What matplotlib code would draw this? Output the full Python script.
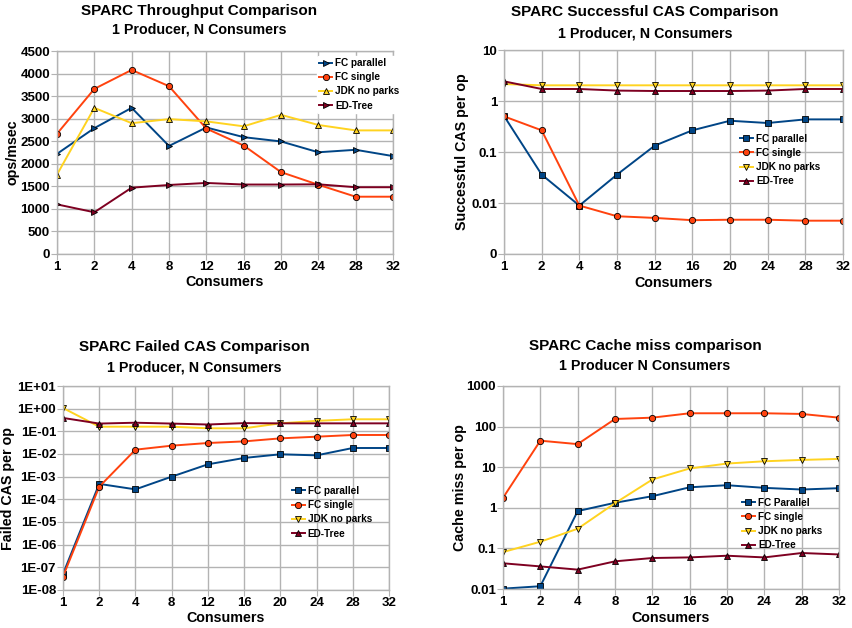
import matplotlib
matplotlib.use('Agg')
import matplotlib.pyplot as plt
from matplotlib.ticker import FixedLocator, FixedFormatter, NullLocator

plt.rcParams['font.family'] = ['Liberation Sans', 'DejaVu Sans']
plt.rcParams['font.weight'] = 'bold'

consumers = ['1', '2', '4', '8', '12', '16', '20', '24', '28', '32']

# throughput (ops/msec)
tp_fc_parallel = [2220, 2790, 3240, 2395, 2805, 2590, 2495, 2255, 2310, 2170]
tp_fc_single = [2665, 3660, 4080, 3720, 2780, 2405, 1815, 1535, 1270, 1270]
tp_jdk = [1760, 3240, 2900, 2990, 2940, 2830, 3085, 2860, 2740, 2740]
tp_edtree = [1100, 925, 1470, 1530, 1575, 1540, 1540, 1545, 1480, 1480]

# successful CAS per op
ok_fc_parallel = [0.51, 0.036, 0.0089, 0.036, 0.133, 0.266, 0.41, 0.37, 0.436, 0.436]
ok_fc_single = [0.50, 0.266, 0.0089, 0.0055, 0.0051, 0.0046, 0.0047, 0.0047, 0.0045, 0.0045]
ok_jdk = [2.15, 2.03, 2.03, 2.03, 2.03, 2.03, 2.03, 2.03, 2.03, 2.03]
ok_edtree = [2.43, 1.72, 1.72, 1.60, 1.57, 1.57, 1.57, 1.60, 1.72, 1.72]

# failed CAS per op
fail_fc_parallel = [5.1e-8, 4.8e-4, 2.75e-4, 1.0e-3, 3.5e-3, 6.7e-3, 9.7e-3, 8.7e-3, 0.0184, 0.0184]
fail_fc_single = [3.9e-8, 3.6e-4, 0.0155, 0.0233, 0.0305, 0.036, 0.049, 0.058, 0.069, 0.069]
fail_jdk = [1.07, 0.16, 0.16, 0.16, 0.136, 0.136, 0.225, 0.29, 0.34, 0.34]
fail_edtree = [0.39, 0.22, 0.24, 0.22, 0.20, 0.23, 0.225, 0.225, 0.225, 0.225]

# cache misses per op
cm_fc_parallel = [0.0102, 0.0117, 0.83, 1.33, 1.93, 3.2, 3.6, 3.1, 2.82, 3.04]
cm_fc_single = [1.76, 45, 37, 154, 166, 213, 213, 213, 205, 166]
cm_jdk = [0.081, 0.146, 0.305, 1.3, 4.97, 9.3, 12.3, 14.0, 15.1, 16.0]
cm_edtree = [0.043, 0.036, 0.030, 0.048, 0.058, 0.060, 0.066, 0.060, 0.077, 0.071]

BLUE = '#004586'
ORANGE = '#ff420e'
YELLOW = '#ffd320'
MAROON = '#7e0021'
GRID = '#b3b3b3'

fig = plt.figure(figsize=(8.52, 6.28), dpi=100)


def px_axes(l, t, r, b):
    W, H = 852.0, 628.0
    return fig.add_axes([l / W, 1 - b / H, (r - l) / W, (b - t) / H])


def style(ax):
    ax.set_xlim(0, len(consumers) - 1)
    ax.set_xticks(range(len(consumers)))
    ax.set_xticklabels(consumers)
    ax.grid(True, color=GRID, linewidth=1.0)
    ax.set_axisbelow(True)
    for s in ax.spines.values():
        s.set_color(GRID)
        s.set_linewidth(1.0)
    ax.tick_params(axis='both', which='major', direction='out', length=4,
                   color=GRID, labelsize=9.5, pad=1)
    for lab in ax.get_xticklabels() + ax.get_yticklabels():
        lab.set_fontweight('bold')


def draw(ax, series, markers, labels, log=False):
    x = range(len(consumers))
    colors = [BLUE, ORANGE, YELLOW, MAROON]
    for ys, m, lab, c in zip(series, markers, labels, colors):
        ax.plot(x, ys, color=c, linewidth=1.4, marker=m, markersize=4.5,
                markerfacecolor=c, markeredgecolor='black', markeredgewidth=0.6,
                label=lab)
    if log:
        ax.set_yscale('log')
        ax.yaxis.set_minor_locator(NullLocator())


def legend(ax, x, y, white=False):
    leg = ax.legend(loc='upper left', bbox_to_anchor=(x, y), frameon=white,
                    fontsize=7.2, handlelength=1.3, handletextpad=0.3,
                    labelspacing=0.42, borderaxespad=0, borderpad=0.2)
    if white:
        leg.get_frame().set_edgecolor('white')
        leg.get_frame().set_facecolor('white')
        leg.get_frame().set_alpha(1)
    for t in leg.get_texts():
        t.set_fontweight('bold')
    return leg


def titles(cx, y1, y2, t1, t2):
    fig.text(cx / 852, 1 - y1 / 628, t1, ha='center', va='center',
             fontsize=11, fontweight='bold')
    fig.text(cx / 852, 1 - y2 / 628, t2, ha='center', va='center',
             fontsize=10.3, fontweight='bold')


def labels(ax, xlab, ylab, xl_y, yl_x):
    ax.set_xlabel(xlab, fontsize=10.3, fontweight='bold')
    ax.set_ylabel(ylab, fontsize=10.3, fontweight='bold')
    ax.xaxis.set_label_coords(0.5, xl_y)
    ax.yaxis.set_label_coords(yl_x, 0.5)


# ---- Throughput
ax1 = px_axes(57, 51, 393, 254)
draw(ax1, [tp_fc_parallel, tp_fc_single, tp_jdk, tp_edtree],
     ['>', 'o', '^', '>'], ['FC parallel', 'FC single', 'JDK no parks', 'ED-Tree'])
ax1.set_ylim(0, 4500)
ax1.set_yticks(range(0, 4501, 500))
style(ax1)
legend(ax1, 0.775, 0.975, white=True)
titles(199, 11, 30, 'SPARC Throughput Comparison', '1 Producer, N Consumers')
labels(ax1, 'Consumers', 'ops/msec', -0.105, -0.113)

# ---- Successful CAS
ax2 = px_axes(504, 50, 843, 254)
draw(ax2, [ok_fc_parallel, ok_fc_single, ok_jdk, ok_edtree],
     ['s', 'o', 'v', '^'], ['FC parallel', 'FC single', 'JDK no parks', 'ED-Tree'], log=True)
ax2.set_ylim(0.001, 10)
ax2.yaxis.set_major_locator(FixedLocator([0.001, 0.01, 0.1, 1, 10]))
ax2.yaxis.set_major_formatter(FixedFormatter(['0', '0.01', '0.1', '1', '10']))
style(ax2)
legend(ax2, 0.69, 0.6)
titles(645, 12, 33, 'SPARC Successful CAS Comparison', '1 Producer, N Consumers')
labels(ax2, 'Consumers', 'Successful CAS per op', -0.11, -0.103)

# ---- Failed CAS
ax3 = px_axes(63, 386, 389, 590)
draw(ax3, [fail_fc_parallel, fail_fc_single, fail_jdk, fail_edtree],
     ['s', 'o', 'v', '^'], ['FC parallel', 'FC single', 'JDK no parks', 'ED-Tree'], log=True)
ax3.set_ylim(1e-8, 10)
exps = list(range(-8, 2))
ax3.yaxis.set_major_locator(FixedLocator([10.0 ** e for e in exps]))
ax3.yaxis.set_major_formatter(FixedFormatter(['1E%+03d' % e for e in exps]))
style(ax3)
legend(ax3, 0.695, 0.52)
titles(194, 347, 367, 'SPARC Failed CAS Comparison', '1 Producer, N Consumers')
labels(ax3, 'Consumers', 'Failed CAS per op', -0.105, -0.147)

# ---- Cache miss
ax4 = px_axes(503, 386, 839, 589)
draw(ax4, [cm_fc_parallel, cm_fc_single, cm_jdk, cm_edtree],
     ['s', 'o', 'v', '^'], ['FC Parallel', 'FC single', 'JDK no parks', 'ED-Tree'], log=True)
ax4.set_ylim(0.01, 1000)
ax4.yaxis.set_major_locator(FixedLocator([0.01, 0.1, 1, 10, 100, 1000]))
ax4.yaxis.set_major_formatter(FixedFormatter(['0.01', '0.1', '1', '10', '100', '1000']))
style(ax4)
legend(ax4, 0.705, 0.46)
titles(645, 346, 366, 'SPARC Cache miss comparison', '1 Producer N Consumers')
labels(ax4, 'Consumers', 'Cache miss per op', -0.11, -0.107)

fig.savefig('out.png', dpi=100, facecolor='white')
